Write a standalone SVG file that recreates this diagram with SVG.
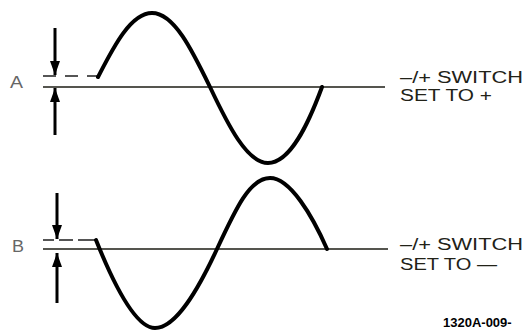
<svg xmlns="http://www.w3.org/2000/svg" width="530" height="331" viewBox="0 0 530 331">
  <style>
    .base { stroke: #1c1c14; stroke-width: 1.6; fill: none; }
    .dash { stroke: #555; stroke-width: 2; fill: none; }
    .wave { stroke: #000; stroke-width: 4; fill: none; stroke-linecap: round; stroke-linejoin: round; }
    .arrow { stroke: #000; stroke-width: 3; fill: none; }
    .lbl { font-family: "Liberation Sans", Arial, sans-serif; font-size: 16px; fill: #666; }
    .txt { font-family: "Liberation Sans", Arial, sans-serif; font-size: 16px; fill: #222218; }
    .code { font-family: "Liberation Sans", Arial, sans-serif; font-size: 13px; font-weight: bold; fill: #000; }
  </style>
  <defs>
    <marker id="ah" viewBox="0 0 14 10" refX="14" refY="5" markerWidth="14" markerHeight="10" markerUnits="userSpaceOnUse" orient="auto">
      <path d="M0 0 L14 5 L0 10 Z" fill="#000"/>
    </marker>
  </defs>

  <g id="trace-a">
    <text class="lbl" x="10" y="88" textLength="13" lengthAdjust="spacingAndGlyphs">A</text>
    <line class="base" x1="43" y1="87" x2="385" y2="87"/>
    <path class="dash" d="M43 76 H56 M65 76 H78 M87 76 H98"/>
    <path class="wave" d="M98 77 C112 50, 130 13, 152 13 C174 13, 192 50, 210 87 C228 125, 247 163, 268 163 C290 163, 308 125, 322 87"/>
    <text class="txt" x="400" y="83" textLength="123" lengthAdjust="spacingAndGlyphs">–/+ SWITCH</text>
    <text class="txt" x="400" y="101" textLength="92" lengthAdjust="spacingAndGlyphs">SET TO +</text>
  </g>

  <g id="trace-b">
    <text class="lbl" x="12" y="252" textLength="12" lengthAdjust="spacingAndGlyphs">B</text>
    <line class="base" x1="43" y1="249" x2="388" y2="249"/>
    <path class="dash" d="M43 240 H54 M59 240 H73 M78 240 H96"/>
    <path class="wave" d="M96 240 C112 280, 135 328, 155 328 C176 328, 198 290, 217 249 C236 208, 250 178, 270 178 C290 178, 312 215, 327 249"/>
    <text class="txt" x="400" y="250" textLength="123" lengthAdjust="spacingAndGlyphs">–/+ SWITCH</text>
    <text class="txt" x="400" y="270" textLength="97" lengthAdjust="spacingAndGlyphs">SET TO —</text>
  </g>

  <g id="connectors">
    <line class="arrow" x1="55" y1="28" x2="55" y2="75" marker-end="url(#ah)"/>
    <line class="arrow" x1="55" y1="135" x2="55" y2="88" marker-end="url(#ah)"/>
    <line class="arrow" x1="57" y1="193" x2="57" y2="239" marker-end="url(#ah)"/>
    <line class="arrow" x1="57" y1="303" x2="57" y2="253" marker-end="url(#ah)"/>
  </g>

  <text class="code" x="443" y="327">1320A-009-</text>
</svg>
